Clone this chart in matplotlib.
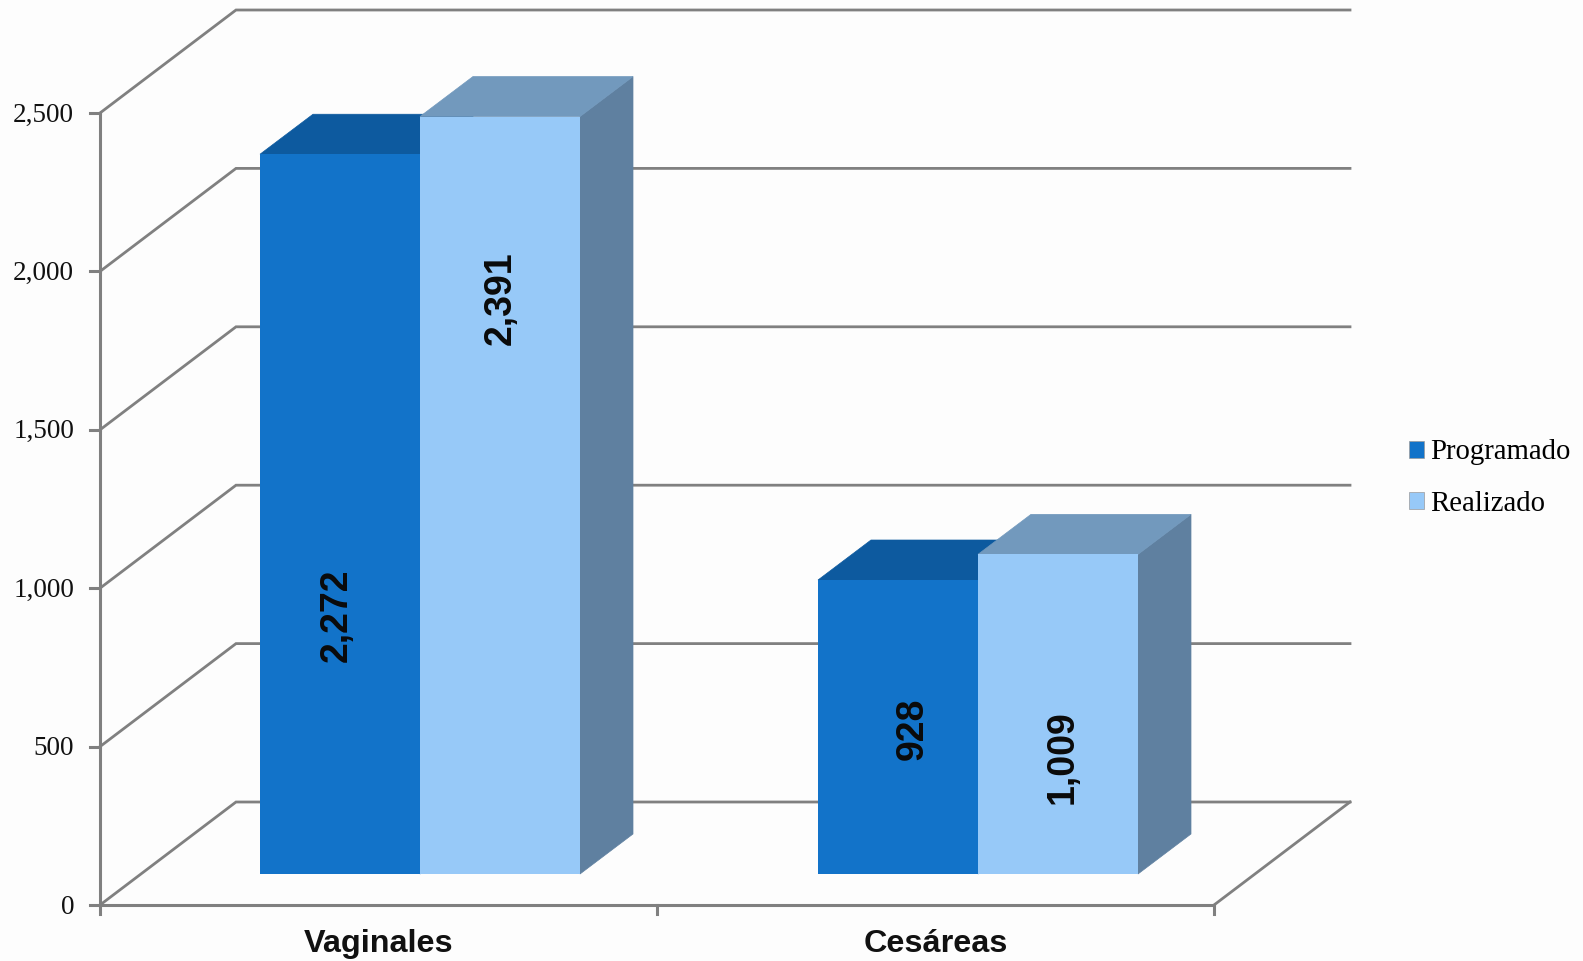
import matplotlib
matplotlib.use("Agg")
import matplotlib.pyplot as plt
from matplotlib.patches import Polygon, Rectangle

categories = ["Vaginales", "Cesáreas"]
series_names = ["Programado", "Realizado"]
programado = [2272, 928]
realizado = [2391, 1009]
y_ticks = [0, 500, 1000, 1500, 2000, 2500]
y_tick_labels = ["0", "500", "1,000", "1,500", "2,000", "2,500"]

BG = "#fdfdfd"
GRID = "#808080"
FRONT = ["#1273c9", "#97c9f8"]
TOP = ["#0d5a9f", "#7299bd"]
SIDE = ["#0d5a9f", "#5f80a0"]

W, H = 1583, 961
X0, Y0 = 100, 905       # pixel position of the chart origin
PX_X = 557.0            # pixels per category
PX_Y = 158.4 / 500      # pixels per unit of value


def dx(px):
    return px / PX_X


def dy(px):
    return px / PX_Y


fig = plt.figure(figsize=(W / 100, H / 100), dpi=100, facecolor=BG)
ax = fig.add_axes([0, 0, 1, 1])
ax.set_xlim(-dx(X0), dx(W - X0))
ax.set_ylim(-dy(H - Y0), dy(Y0))
ax.axis("off")

# walls of the 3d box
wall_dx, wall_dy = dx(136), dy(103)
n_cat = len(categories)
for t in y_ticks:
    ax.plot([0, wall_dx, n_cat + wall_dx], [t, t + wall_dy, t + wall_dy],
            color=GRID, lw=2, solid_joinstyle="miter", zorder=1)
    ax.plot([-dx(10), 0], [t, t], color=GRID, lw=2.2, zorder=1)
ax.plot([n_cat, n_cat + wall_dx], [0, wall_dy], color=GRID, lw=2, zorder=1)
ax.plot([0, 0], [0, y_ticks[-1]], color=GRID, lw=2.2, zorder=1)
ax.plot([0, n_cat], [0, 0], color=GRID, lw=2.2, zorder=1)
for i in range(n_cat + 1):
    ax.plot([i, i], [0, -dy(9)], color=GRID, lw=2.2, zorder=1)

for t, lab in zip(y_ticks, y_tick_labels):
    ax.text(-dx(26), t - dy(2), lab, ha="right", va="center", fontsize=19.5,
            family="Liberation Serif", color="#111111")

for i, c in enumerate(categories):
    ax.text(i + 0.5, -dy(39), c, ha="center", va="center", fontsize=23.3,
            family="Liberation Sans", weight="bold", color="#111111")

# bars, shifted into the box
base = dy(31)
bar_w = dx(160)
depth_x, depth_y = dx(53), dy(40)
starts = [dx(160), dx(718)]
# label placement: fraction of the bar height, pixel shift from bar centre
label_frac = [[0.360, 0.760], [0.495, 0.367]]
label_shift = [[-3, 1], [15, 5]]

for i in range(n_cat):
    vals = [programado[i], realizado[i]]
    for j, v in enumerate(vals):
        left = starts[i] + j * bar_w
        right = left + bar_w
        top = base + v
        z = 3 + j
        ax.add_patch(Polygon([(right, base), (right + depth_x, base + depth_y),
                              (right + depth_x, top + depth_y), (right, top)],
                             facecolor=SIDE[j], edgecolor=SIDE[j], lw=0.5, zorder=z))
        ax.add_patch(Polygon([(left, top), (left + depth_x, top + depth_y),
                              (right + depth_x, top + depth_y), (right, top)],
                             facecolor=TOP[j], edgecolor=TOP[j], lw=0.5, zorder=z))
        ax.bar(left, v, width=bar_w, bottom=base, align="edge", color=FRONT[j],
               linewidth=0, zorder=z)
        ax.text(left + bar_w / 2 + dx(label_shift[i][j]),
                base + v * label_frac[i][j], f"{v:,}", rotation=90,
                ha="center", va="center", fontsize=27,
                family="Liberation Sans", weight="bold", color="#0a0a0a", zorder=6)

handles = [Rectangle((0, 0), 1, 1, facecolor=FRONT[k], edgecolor="#9a9a9a", lw=0.5)
           for k in range(2)]
ax.legend(handles, series_names, loc="center left",
          bbox_to_anchor=(1409 / W, 1 - 478 / H), bbox_transform=fig.transFigure,
          frameon=False, handlelength=0.53, handleheight=0.53, handletextpad=0.22,
          labelspacing=0.87, borderpad=0, borderaxespad=0,
          prop={"family": "Liberation Serif", "size": 20.7})

fig.savefig("out.png", dpi=100, facecolor=BG)
